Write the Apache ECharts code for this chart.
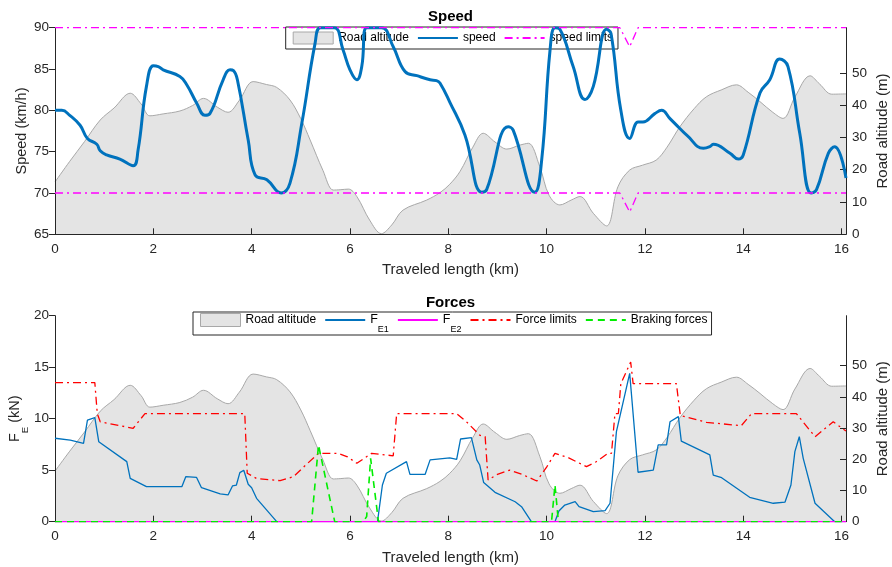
<!DOCTYPE html>
<html><head><meta charset="utf-8">
<script src="https://cdn.jsdelivr.net/npm/echarts@6/dist/echarts.min.js"></script>
<style>html,body{margin:0;padding:0;background:#fff}#c{width:892px;height:567px}</style>
</head><body><div id="c"></div>
<script>
// ---------- data ----------
const X_MAX = 16.09;
const xTicks = [0, 2, 4, 6, 8, 10, 12, 14, 16];
const speedTicks = [65, 70, 75, 80, 85, 90];
const forceTicks = [0, 5, 10, 15, 20];
const altTicks = [0, 10, 20, 30, 40, 50];

const altKm = [0, 0.3, 0.6, 0.92, 1.2, 1.53, 1.75, 1.93, 2.2, 2.54, 2.8, 3.02, 3.3, 3.52, 3.75, 4.03, 4.3, 4.51, 4.78, 5.0, 5.19, 5.45, 5.66, 5.8, 5.97, 6.14, 6.4, 6.64, 6.85, 7.08, 7.56, 7.83, 8.03, 8.24, 8.5, 8.71, 8.95, 9.19, 9.45, 9.63, 9.86, 10.05, 10.27, 10.5, 10.68, 10.95, 11.22, 11.45, 11.69, 11.95, 12.23, 12.45, 12.71, 13.0, 13.25, 13.55, 13.86, 14.1, 14.34, 14.6, 14.81, 15.05, 15.36, 15.55, 15.8, 16.09];
const altM = [16.2, 22.6, 28.7, 35.4, 39.1, 43.7, 40.4, 36.7, 37.3, 38.2, 39.9, 42.1, 39.4, 37.8, 41.5, 47.3, 46.4, 45.5, 41.6, 35.8, 29.2, 19.8, 13.7, 13.8, 14.0, 11.7, 4.4, 0.2, 2.9, 7.5, 10.6, 12.9, 15.5, 19.5, 27.0, 31.3, 28.6, 26.4, 27.6, 28.2, 21.0, 12.1, 9.1, 10.6, 11.7, 6.5, 2.6, 14.7, 19.9, 21.4, 23.0, 27.0, 33.3, 38.9, 42.6, 44.7, 46.3, 44.0, 41.1, 37.8, 35.9, 42.5, 49.1, 46.6, 43.4, 43.5];

const speedKm = [0, 0.14, 0.3, 0.51, 0.66, 0.85, 0.92, 1.05, 1.32, 1.59, 1.69, 1.86, 2.0, 2.1, 2.2, 2.54, 2.68, 2.88, 3.05, 3.15, 3.42, 3.56, 3.63, 3.71, 3.93, 4.07, 4.31, 4.6, 4.78, 5.02, 5.29, 5.4, 5.68, 5.86, 6.0, 6.14, 6.24, 6.34, 6.64, 6.88, 7.12, 7.36, 7.63, 7.76, 7.83, 8.03, 8.34, 8.68, 8.78, 9.22, 9.32, 9.76, 9.9, 10.07, 10.17, 10.27, 10.54, 10.78, 10.95, 11.22, 11.31, 11.51, 11.69, 11.86, 11.96, 12.2, 12.34, 12.51, 12.71, 12.85, 13.19, 13.32, 13.39, 13.73, 13.9, 14.0, 14.34, 14.54, 14.74, 14.91, 15.15, 15.38, 15.49, 15.73, 15.86, 16.09];
const speedVal = [80.0, 80.0, 79.4, 78.2, 76.6, 75.9, 75.1, 74.6, 74.1, 73.3, 75.2, 82.9, 85.4, 85.3, 84.9, 84.1, 83.1, 80.9, 79.4, 79.6, 83.7, 84.9, 84.8, 83.7, 76.4, 72.2, 71.6, 70.0, 71.2, 78.4, 88.1, 90, 90, 87.3, 84.9, 83.7, 85.3, 90, 90, 87.7, 84.7, 84.2, 83.7, 83.6, 83.3, 81.0, 77.0, 70.1, 70.4, 78.0, 77.6, 70.1, 74.0, 87.3, 90, 89.8, 85.3, 81.3, 82.9, 89.8, 89.3, 80.0, 76.6, 78.6, 78.6, 79.6, 80.0, 79.0, 77.8, 77.0, 75.4, 75.6, 75.9, 74.8, 74.1, 74.6, 82.1, 83.7, 86.2, 85.3, 77.2, 70.0, 70.4, 74.8, 75.6, 71.8];

const limKm = [0, 11.49, 11.69, 11.86, 16.09];
const limUpper = [90, 90, 87.7, 90, 90];
const limLower = [70, 70, 67.7, 70, 70];

const fe1Km = [0, 0.31, 0.58, 0.66, 0.81, 0.89, 1.46, 1.53, 1.86, 2.58, 2.66, 2.88, 2.98, 3.36, 3.52, 3.61, 3.69, 3.76, 3.84, 3.93, 4.0, 4.1, 4.51, 6.56, 6.66, 6.74, 7.15, 7.22, 7.53, 7.63, 8.03, 8.17, 8.25, 8.47, 8.58, 8.64, 8.72, 8.95, 9.36, 9.49, 9.69, 10.17, 10.25, 10.37, 10.58, 10.66, 10.95, 11.19, 11.29, 11.42, 11.69, 11.86, 12.17, 12.27, 12.44, 12.51, 12.68, 12.74, 13.32, 13.39, 13.56, 14.13, 14.61, 14.85, 14.97, 15.05, 15.14, 15.22, 15.46, 15.86, 16.09];
const fe1Val = [8.1, 7.93, 7.6, 9.87, 10.1, 7.77, 5.83, 4.2, 3.4, 3.4, 4.37, 4.3, 3.3, 2.7, 2.6, 3.47, 3.56, 4.76, 5.0, 3.63, 3.3, 2.27, 0, 0, 3.56, 4.7, 5.83, 4.6, 4.6, 6.0, 6.2, 6.06, 8.03, 8.16, 6.0, 5.5, 3.8, 2.85, 1.94, 1.46, 0, 0, 1.04, 1.62, 1.94, 1.46, 0.97, 1.07, 1.79, 8.74, 14.4, 4.8, 5.0, 7.45, 7.45, 9.7, 10.2, 7.83, 6.48, 4.53, 4.27, 2.37, 1.79, 1.91, 3.56, 6.8, 8.25, 6.15, 1.79, 0, 0];

const fe2Km = [0, 16.09];
const fe2Val = [0, 0];

const limFKm = [0, 0.81, 0.86, 0.92, 1.59, 1.83, 3.86, 3.91, 4.1, 4.58, 4.85, 5.1, 5.36, 5.76, 5.95, 6.14, 6.44, 6.88, 6.95, 8.17, 8.37, 8.64, 8.75, 8.81, 9.0, 9.25, 9.5, 9.8, 10.0, 10.17, 10.45, 10.81, 11.0, 11.25, 11.32, 11.39, 11.46, 11.51, 11.71, 11.76, 12.64, 12.72, 13.25, 13.96, 14.17, 15.08, 15.46, 15.83, 16.09];
const limFVal = [13.5, 13.5, 10.5, 9.7, 9.07, 10.5, 10.5, 4.7, 4.2, 3.98, 4.37, 5.5, 6.64, 6.64, 6.3, 5.67, 6.64, 6.4, 10.5, 10.5, 9.7, 8.4, 8.25, 4.05, 4.6, 5.0, 4.6, 3.95, 5.3, 6.64, 6.2, 5.34, 5.8, 6.64, 6.64, 10.5, 10.5, 13.4, 15.5, 13.4, 13.4, 10.3, 9.65, 9.32, 10.5, 10.5, 8.25, 9.7, 8.8];

const brkKm = [0, 5.22, 5.36, 5.69, 6.27, 6.34, 6.42, 6.58, 10.1, 10.17, 10.24, 16.09];
const brkVal = [0, 0, 7.45, 0, 0, 0.5, 6.15, 0, 0, 3.56, 0, 0];

// ---------- helpers ----------
const zip = (a, b) => a.map((v, i) => [v, b[i]]);
const FONT = 'Liberation Sans, Arial, Helvetica, sans-serif';
const AX = '#262626';

function xAxisCfg(gi) {
  return {
    type: 'value', gridIndex: gi, min: 0, max: X_MAX, interval: 2, z: 3,
    name: 'Traveled length (km)', nameLocation: 'middle', nameGap: 28.5, nameMoveOverlap: false,
    nameTextStyle: { fontSize: 15, color: AX, fontFamily: FONT },
    axisLine: { show: true, onZero: false, lineStyle: { color: AX, width: 1 } },
    axisTick: { show: true, inside: true, length: 6, customValues: xTicks, lineStyle: { color: AX } },
    axisLabel: { customValues: xTicks, fontSize: 13.5, color: AX, margin: 8, fontFamily: FONT },
    splitLine: { show: false }
  };
}
function leftY(gi, min, max, interval, ticks, name, nameStyle, gap) {
  return {
    type: 'value', gridIndex: gi, position: 'left', min, max, interval, z: 3,
    name, nameLocation: 'middle', nameGap: gap, nameMoveOverlap: false, nameTextStyle: nameStyle,
    axisLine: { show: true, onZero: false, lineStyle: { color: AX, width: 1 } },
    axisTick: { show: true, inside: false, length: 6, customValues: ticks, lineStyle: { color: AX } },
    axisLabel: { customValues: ticks, fontSize: 13.5, color: AX, margin: 6, fontFamily: FONT },
    splitLine: { show: false }
  };
}
function rightY(gi, max) {
  return {
    type: 'value', gridIndex: gi, position: 'right', min: 0, max, interval: 10, z: 3,
    name: 'Road altitude (m)', nameLocation: 'middle', nameGap: 29, nameMoveOverlap: false,
    nameTextStyle: { fontSize: 15, color: AX, fontFamily: FONT },
    axisLine: { show: true, onZero: false, lineStyle: { color: AX, width: 1 } },
    axisTick: { show: true, inside: true, length: 6, customValues: altTicks, lineStyle: { color: AX } },
    axisLabel: { customValues: altTicks, fontSize: 13.5, color: AX, margin: 6, fontFamily: FONT },
    splitLine: { show: false }
  };
}
function altSeries(xi, yi) {
  return {
    type: 'line', name: 'Road altitude', xAxisIndex: xi, yAxisIndex: yi,
    data: zip(altKm, altM), smooth: 0.35, symbol: 'none', z: 1,
    lineStyle: { color: '#a8a8a8', width: 1 },
    areaStyle: { color: '#e4e4e4', opacity: 1 },
    itemStyle: { color: '#e4e4e4' }
  };
}
const hide = { color: 'rgba(0,0,0,0)', borderColor: 'rgba(0,0,0,0)', borderWidth: 0 };

const chart = echarts.init(document.getElementById('c'), null, { renderer: 'canvas' });
chart.setOption({
  animation: false,
  backgroundColor: '#fff',
  textStyle: { fontFamily: FONT },
  grid: [
    { left: 55, right: 46, top: 27.7, height: 206.6, containLabel: false, outerBoundsMode: 'none' },
    { left: 55, right: 46, top: 315.7, height: 206, containLabel: false, outerBoundsMode: 'none' }
  ],
  xAxis: [xAxisCfg(0), xAxisCfg(1)],
  yAxis: [
    leftY(0, 65, 90, 5, speedTicks, 'Speed (km/h)', { fontSize: 14.5, color: AX, fontFamily: FONT }, 26),
    rightY(0, 64),
    leftY(1, 0, 20, 5, forceTicks, '{a|F}{b|E}{a| (kN)}', {
      color: AX, fontFamily: FONT,
      rich: {
        a: { fontSize: 14.5, lineHeight: 30, verticalAlign: 'middle', color: AX, fontFamily: FONT },
        b: { fontSize: 9.5, lineHeight: 10, verticalAlign: 'bottom', color: AX, fontFamily: FONT }
      }
    }, 25),
    rightY(1, 66)
  ],
  graphic: [
    { type: 'text', x: 450.5, y: 16.5, style: { text: 'Speed', fontSize: 15, fontWeight: 'bold', fontFamily: FONT, fill: '#000', align: 'center', verticalAlign: 'middle' } },
    { type: 'text', x: 450.5, y: 303, style: { text: 'Forces', fontSize: 15, fontWeight: 'bold', fontFamily: FONT, fill: '#000', align: 'center', verticalAlign: 'middle' } }
  ],
  legend: [
    {
      left: 285.7, top: 27, orient: 'horizontal', itemWidth: 40, itemHeight: 12, itemGap: 8,
      padding: [4.5, 5, 4.5, 7], borderColor: '#262626', borderWidth: 1, backgroundColor: '#fff',
      z: 1, selectedMode: false,
      textStyle: { fontSize: 12, color: '#000', fontFamily: FONT },
      data: [
        { name: 'Road altitude', icon: 'rect', itemStyle: { color: '#e4e4e4', borderColor: '#a8a8a8', borderWidth: 1 } },
        { name: 'speed', itemStyle: hide },
        { name: 'speed limits', itemStyle: hide }
      ]
    },
    {
      left: 193, top: 312, orient: 'horizontal', itemWidth: 40, itemHeight: 13, itemGap: 8,
      padding: [1, 4, 1, 7], borderColor: '#262626', borderWidth: 1, backgroundColor: '#fff',
      z: 1, selectedMode: false,
      formatter: function (n) {
        if (n === 'F_E1') return '{n|F}{s|E1}';
        if (n === 'F_E2') return '{n|F}{s|E2}';
        return '{t|' + n + '}';
      },
      textStyle: {
        fontSize: 12, color: '#000', fontFamily: FONT,
        rich: {
          t: { fontSize: 12, lineHeight: 28, color: '#000', fontFamily: FONT },
          n: { fontSize: 12.5, lineHeight: 28, verticalAlign: 'middle', color: '#000', fontFamily: FONT },
          s: { fontSize: 9, lineHeight: 10, verticalAlign: 'bottom', color: '#000', fontFamily: FONT }
        }
      },
      data: [
        { name: 'Road altitude', icon: 'rect', itemStyle: { color: '#e4e4e4', borderColor: '#a8a8a8', borderWidth: 1 } },
        { name: 'F_E1', itemStyle: hide },
        { name: 'F_E2', itemStyle: hide },
        { name: 'Force limits', itemStyle: hide },
        { name: 'Braking forces', itemStyle: hide }
      ]
    }
  ],
  series: [
    altSeries(0, 1),
    { type: 'line', name: 'speed', xAxisIndex: 0, yAxisIndex: 0, data: zip(speedKm, speedVal),
      smooth: 0.45, symbol: 'none', z: 4, lineStyle: { color: '#0072bd', width: 3 } },
    { type: 'line', name: 'speed limits', xAxisIndex: 0, yAxisIndex: 0, data: zip(limKm, limUpper),
      symbol: 'none', z: 4, lineStyle: { color: '#ff00ff', width: 1.3, type: [8, 4, 2, 4] } },
    { type: 'line', name: 'speed limits', xAxisIndex: 0, yAxisIndex: 0, data: zip(limKm, limLower),
      symbol: 'none', z: 4, lineStyle: { color: '#ff00ff', width: 1.3, type: [8, 4, 2, 4] } },

    altSeries(1, 3),
    { type: 'line', name: 'F_E1', xAxisIndex: 1, yAxisIndex: 2, data: zip(fe1Km, fe1Val),
      symbol: 'none', z: 4, lineStyle: { color: '#0072bd', width: 1.3 } },
    { type: 'line', name: 'F_E2', xAxisIndex: 1, yAxisIndex: 2, data: zip(fe2Km, fe2Val),
      symbol: 'none', z: 5, lineStyle: { color: '#ff00ff', width: 1.6 } },
    { type: 'line', name: 'Force limits', xAxisIndex: 1, yAxisIndex: 2, data: zip(limFKm, limFVal),
      symbol: 'none', z: 4, lineStyle: { color: '#ff0000', width: 1.3, type: [8, 4, 2, 4] } },
    { type: 'line', name: 'Braking forces', xAxisIndex: 1, yAxisIndex: 2, data: zip(brkKm, brkVal),
      symbol: 'none', z: 6, lineStyle: { color: '#00ee00', width: 1.6, type: [7, 5] } }
  ]
});
</script>
</body></html>
